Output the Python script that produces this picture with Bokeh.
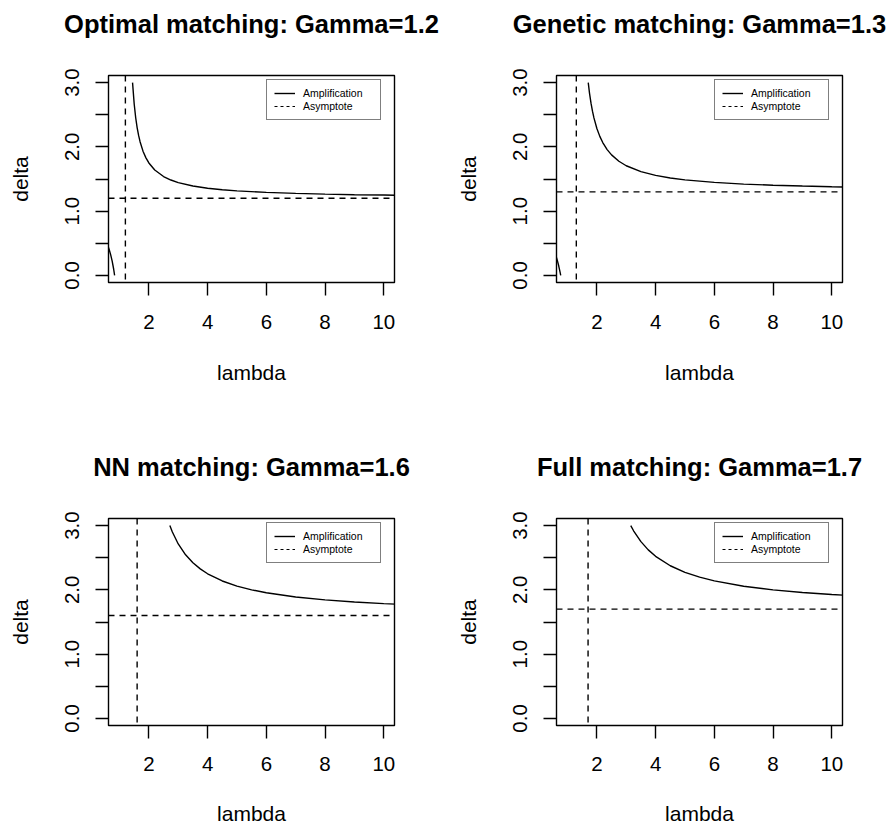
from bokeh.plotting import figure
from bokeh.layouts import gridplot
from bokeh.models import (Range1d, FixedTicker, Span, Legend, LegendItem, LinearAxis)
from bokeh.embed import file_html
from bokeh.resources import INLINE

FONT = "Liberation Sans"
LW = 1.4

titles = ["Optimal matching: Gamma=1.2", "Genetic matching: Gamma=1.3",
          "NN matching: Gamma=1.6", "Full matching: Gamma=1.7"]
gammas = [1.2, 1.3, 1.6, 1.7]

# Optimal matching (Gamma = 1.2)
lam_opt = [1.444, 1.5, 1.55, 1.6, 1.65, 1.7, 1.8, 1.9, 2.0, 2.2, 2.5, 2.75, 3.0, 3.5,
           4.0, 4.5, 5.0, 6.0, 7.0, 8.0, 9.0, 10.0, 10.5]
delta_opt = [3.0, 2.667, 2.457, 2.3, 2.178, 2.08, 1.933, 1.829, 1.75, 1.64, 1.538, 1.484,
             1.444, 1.391, 1.357, 1.333, 1.316, 1.292, 1.276, 1.265, 1.256, 1.25, 1.247]
lam_opt_low = [0.55, 0.6, 0.65, 0.7, 0.75, 0.8, 0.833]
delta_opt_low = [0.523, 0.467, 0.4, 0.32, 0.222, 0.1, 0.0]

# Genetic matching (Gamma = 1.3)
lam_gen = [1.706, 1.75, 1.8, 1.85, 1.9, 2.0, 2.1, 2.2, 2.35, 2.5, 2.75, 3.0, 3.5, 4.0,
           4.5, 5.0, 6.0, 7.0, 8.0, 9.0, 10.0, 10.5]
delta_gen = [3.0, 2.833, 2.68, 2.555, 2.45, 2.286, 2.163, 2.067, 1.957, 1.875, 1.776,
             1.706, 1.614, 1.556, 1.516, 1.486, 1.447, 1.421, 1.403, 1.39, 1.379, 1.375]
lam_gen_low = [0.55, 0.6, 0.65, 0.7, 0.75, 0.769]
delta_gen_low = [0.38, 0.314, 0.238, 0.15, 0.045, 0.0]

# NN matching (Gamma = 1.6)
lam_nn = [2.714, 2.8, 3.0, 3.25, 3.5, 3.75, 4.0, 4.5, 5.0, 5.5, 6.0, 7.0, 8.0, 9.0, 10.0, 10.5]
delta_nn = [3.0, 2.9, 2.714, 2.545, 2.421, 2.326, 2.25, 2.138, 2.059, 2.0, 1.955, 1.889,
            1.844, 1.811, 1.786, 1.775]

# Full matching (Gamma = 1.7)
lam_full = [3.154, 3.25, 3.5, 3.75, 4.0, 4.5, 5.0, 5.5, 6.0, 7.0, 8.0, 9.0, 10.0, 10.5]
delta_full = [3.0, 2.919, 2.75, 2.622, 2.522, 2.375, 2.273, 2.197, 2.14, 2.057, 2.0, 1.959,
              1.928, 1.915]

x_ticks = [2, 4, 6, 8, 10]
y_ticks = [0.0, 0.5, 1.0, 1.5, 2.0, 2.5, 3.0]
y_tick_labels = ["0.0", "", "1.0", "", "2.0", "", "3.0"]
legend_labels = ["Amplification", "Asymptote"]

curves = [
    (lam_opt, delta_opt, lam_opt_low, delta_opt_low),
    (lam_gen, delta_gen, lam_gen_low, delta_gen_low),
    (lam_nn, delta_nn, None, None),
    (lam_full, delta_full, None, None),
]

FW, FH = 286, 207
BORDERS = {  # (left, right, top, bottom) per (col, row)
    (0, 0): (108, 59, 75, 160),
    (1, 0): (100, 51, 75, 160),
    (0, 1): (108, 59, 76, 106),
    (1, 1): (100, 51, 76, 106),
}


def make_panel(i):
    col, rowi = i % 2, i // 2
    bl, br, bt, bb = BORDERS[(col, rowi)]
    lam, dlt, lam_low, dlt_low = curves[i]
    g = gammas[i]
    p = figure(frame_width=FW, frame_height=FH,
               min_border_left=bl, min_border_right=br,
               min_border_top=bt, min_border_bottom=bb,
               x_range=Range1d(0.625, 10.365), y_range=Range1d(-0.11, 3.11),
               output_backend="svg", toolbar_location=None,
               background_fill_color="white", border_fill_color="white")
    p.grid.visible = False
    p.outline_line_color = "black"
    p.outline_line_width = LW
    p.outline_line_alpha = 1.0

    r_curve = p.line(lam, dlt, line_color="black", line_width=LW)
    if lam_low is not None:
        p.line(lam_low, dlt_low, line_color="black", line_width=LW)

    p.add_layout(Span(location=g, dimension="height", line_color="black",
                      line_width=LW, line_dash="6 5"))
    p.add_layout(Span(location=g, dimension="width", line_color="black",
                      line_width=LW, line_dash="6 5"))
    # single-point (invisible) line, only used as the legend's dashed sample
    r_asym = p.line([g], [g], line_color="black", line_width=1.2, line_dash="3 3")

    # axes
    xa = p.xaxis[0]
    xa.ticker = FixedTicker(ticks=x_ticks)
    xa.axis_label = "lambda"
    ya = p.yaxis[0]
    ya.ticker = FixedTicker(ticks=y_ticks)
    ya.major_label_overrides = {t: s for t, s in zip(y_ticks, y_tick_labels)}
    ya.major_label_orientation = "vertical"
    ya.axis_label = "delta"
    for ax in (xa, ya):
        ax.axis_line_color = None
        ax.major_tick_in = 0
        ax.major_tick_out = 13
        ax.major_tick_line_color = "black"
        ax.major_tick_line_width = LW
        ax.minor_tick_line_color = None
        ax.major_label_text_font = FONT
        ax.major_label_text_font_size = "20.5px"
        ax.major_label_text_color = "black"
        ax.axis_label_text_font = FONT
        ax.axis_label_text_font_size = "21px"
        ax.axis_label_text_font_style = "normal"
        ax.axis_label_text_color = "black"
    xa.major_label_standoff = 19 if rowi == 0 else 18
    xa.axis_label_standoff = 29 if rowi == 0 else 28
    ya.major_label_standoff = 16
    ya.axis_label_standoff = 31

    # title drawn as the label of a tick-less axis above the frame
    ta = LinearAxis(ticker=FixedTicker(ticks=[]), axis_label=titles[i],
                    axis_line_color=None, major_tick_in=0, major_tick_out=0,
                    minor_tick_in=0, minor_tick_out=0, major_label_standoff=0,
                    axis_label_standoff=38,
                    axis_label_text_font=FONT, axis_label_text_font_style="bold",
                    axis_label_text_font_size="25.5px", axis_label_text_color="black")
    p.add_layout(ta, "above")

    legend = Legend(items=[LegendItem(label=legend_labels[0], renderers=[r_curve]),
                           LegendItem(label=legend_labels[1], renderers=[r_asym])],
                    location=(158, 162), orientation="vertical",
                    border_line_color="black", border_line_width=LW,
                    background_fill_color="white", background_fill_alpha=1.0,
                    label_text_font=FONT, label_text_font_size="10.5px",
                    label_text_color="black",
                    glyph_width=21, glyph_height=12, label_height=12,
                    label_width=70, label_standoff=8, padding=7, spacing=1, margin=0)
    p.add_layout(legend, "center")
    return p


panels = [make_panel(i) for i in range(4)]
grid = gridplot([[panels[0], panels[1]], [panels[2], panels[3]]], toolbar_location=None)

open("out.html", "w").write(file_html(grid, INLINE))
